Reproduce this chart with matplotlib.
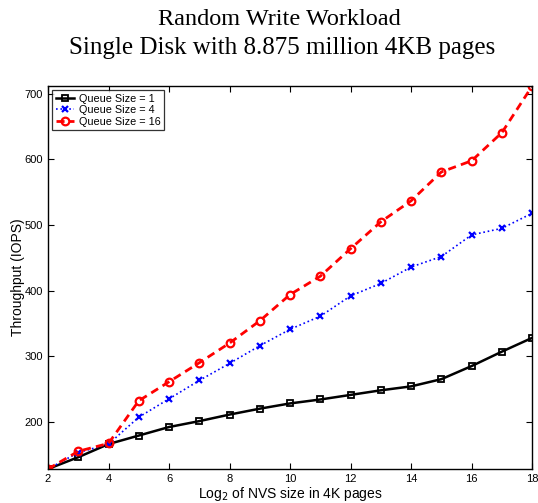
import numpy as np
import matplotlib
matplotlib.use("Agg")
import matplotlib.pyplot as plt

# log2 of NVS size in 4K pages
nvs_log2 = [2, 3, 4, 5, 6, 7, 8, 9, 10, 11, 12, 13, 14, 15, 16, 17, 18]

# throughput (IOPS) per queue size
q1 = [128, 146, 166, 179, 192, 201, 211, 220, 228, 234, 241, 248, 254, 265, 285, 307, 328]
q4 = [128, 153, 166, 207, 235, 263, 289, 316, 341, 361, 392, 411, 436, 452, 485, 495, 518]
q16 = [128, 155, 167, 232, 261, 290, 320, 354, 394, 422, 464, 505, 537, 581, 598, 641, 712]

x_ticks = [2, 4, 6, 8, 10, 12, 14, 16, 18]
y_ticks = [200, 300, 400, 500, 600, 700]

plt.rcParams["font.family"] = ["Liberation Sans", "DejaVu Sans"]

fig = plt.figure(figsize=(5.38, 5.03), dpi=100)
ax = fig.add_axes([0.0892, 0.0676, 0.9, 0.7614])

ax.plot(nvs_log2, q1, color="black", linestyle="-", linewidth=1.8,
        marker="s", markersize=4.5, markerfacecolor="none", markeredgewidth=1.3,
        label="Queue Size = 1")
ax.plot(nvs_log2, q4, color="blue", linestyle=":", linewidth=1.2,
        marker="x", markersize=4.2, markeredgewidth=1.6,
        label="Queue Size = 4")
ax.plot(nvs_log2, q16, color="red", linestyle="--", linewidth=2, dashes=(2.9, 1.9),
        marker="o", markersize=5.5, markerfacecolor="none", markeredgewidth=1.6,
        label="Queue Size = 16")

ax.set_xlim(min(nvs_log2), max(nvs_log2))
ax.set_ylim(min(q1), max(q16))
ax.set_xticks(x_ticks)
ax.set_yticks(y_ticks)
ax.tick_params(direction="in", top=True, right=True, labelsize=8, length=4, width=0.8)
for s in ax.spines.values():
    s.set_linewidth(1.0)

ax.set_xlabel("Log$_2$ of NVS size in 4K pages", fontsize=10, labelpad=1)
ax.set_ylabel("Throughput (IOPS)", fontsize=10, labelpad=0)

leg = ax.legend(loc="upper left", fontsize=7.8, frameon=True, fancybox=False,
                edgecolor="black", handlelength=1.7, borderpad=0.3,
                labelspacing=0.15, borderaxespad=0.4, handletextpad=0.45)
leg.get_frame().set_linewidth(0.9)

serif = ["Liberation Serif", "DejaVu Serif"]
fig.text(0.52, 0.950, "Random Write Workload", ha="center", va="baseline",
         fontsize=17.5, family=serif)
fig.text(0.525, 0.8935, "Single Disk with 8.875 million 4KB pages", ha="center",
         va="baseline", fontsize=18, family=serif)

fig.savefig("out.png", dpi=100)
